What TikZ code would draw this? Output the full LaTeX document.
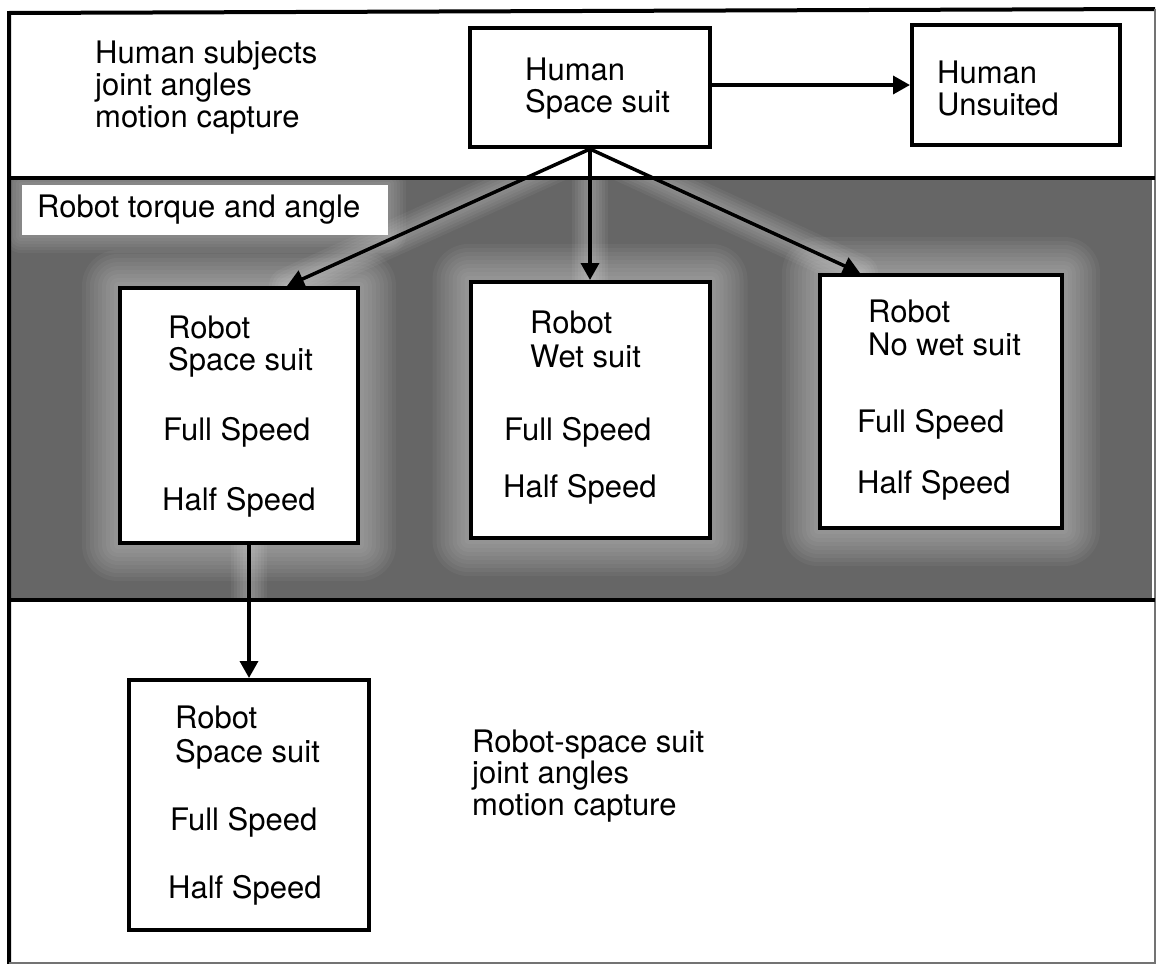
\documentclass[tikz,border=0pt]{standalone}
\usepackage{fontspec}
\setmainfont{TeX Gyre Heros}
\usetikzlibrary{arrows.meta}
\pgfdeclarelayer{bg}
\pgfdeclarelayer{halo}
\pgfsetlayers{bg,halo,main}
\begin{document}
\begin{tikzpicture}[x=1pt,y=-1pt,
  box/.style={draw, line width=4pt, fill=white, inner sep=0pt},
  txt/.style={anchor=base west, inner sep=0pt, font=\fontsize{31}{32}\selectfont},
  arr/.style={line width=3.5pt, -{Triangle[length=17pt,width=18pt]}},
  glow/.style={line width=#1, white, opacity=0.05, line cap=round},
  halofill/.style={white, opacity=0.045},
  frameline/.style={line width=4pt},
  thinframe/.style={line width=1.5pt, black!55}
]
\useasboundingbox (0,0) rectangle (1157,964);

% background and gray band
\begin{pgfonlayer}{bg}
\fill[white] (0,0) rectangle (1157,964);
\fill[black!60] (9,178) rectangle (1152,600);
\end{pgfonlayer}

% boxes
\node[box, minimum width=240pt, minimum height=119pt] (hss) at (590,87.5) {};
\node[box, minimum width=208pt, minimum height=120pt] (hu) at (1016,85) {};
\node[fill=white, inner sep=0pt, minimum width=366pt, minimum height=50pt] (lbl) at (205,210) {};
\node[box, minimum width=238pt, minimum height=255pt] (rss) at (239,415.5) {};
\node[box, minimum width=239pt, minimum height=256pt] (rws) at (590,410) {};
\node[box, minimum width=242pt, minimum height=253pt] (rnw) at (941,401.5) {};
\node[box, minimum width=240pt, minimum height=250pt] (bss) at (249,805) {};

% soft halos in the gray band
\begin{pgfonlayer}{halo}
\begin{scope}
\clip (9,178) rectangle (1152,600);
\foreach \n in {rss,rws,rnw} {
  \foreach \d in {4,8,...,36} {
    \fill[halofill, rounded corners=\d pt]
      ([xshift=-\d pt, yshift=\d pt]\n.north west) rectangle ([xshift=\d pt, yshift=-\d pt]\n.south east);
  }
}
\foreach \d in {3,6,...,18} {
  \fill[halofill, rounded corners=\d pt]
    ([xshift=-\d pt, yshift=\d pt]lbl.north west) rectangle ([xshift=\d pt, yshift=-\d pt]lbl.south east);
}
\foreach \w in {6pt,12pt,...,36pt} {
  \draw[glow=\w] (hss.south) -- ([xshift=48pt]rss.north);
  \draw[glow=\w] (hss.south) -- (rws.north);
  \draw[glow=\w] (hss.south) -- ([xshift=-81pt]rnw.north);
  \draw[glow=\w] ([xshift=10pt]rss.south) -- (bss.north);
}
\end{scope}
\end{pgfonlayer}

% frame and band borders
\draw[frameline] (9,964) -- (9,13) -- (1155,9);
\draw[thinframe] (1155,9) -- (1155,964);
\draw[thinframe] (9,963) -- (1155,963);
\draw[frameline] (9,178) -- (1155,178);
\draw[frameline] (9,600) -- (1155,600);

% texts
\node[txt] (ha) at (95,63) {Human subjects};
\node[txt] (hb) at (95,95) {joint angles};
\node[txt] (hc) at (95,127) {motion capture};

\node[txt] (hss1) at (525,80) {Human};
\node[txt] (hss2) at (525,112) {Space suit};

\node[txt] (hu1) at (937,83) {Human};
\node[txt] (hu2) at (937,115) {Unsuited};

\node[txt] (lblt) at (37,217) {Robot torque and angle};

\node[txt] (rss1) at (168,338) {Robot};
\node[txt] (rss2) at (168,370) {Space suit};
\node[txt] (rss3) at (163,440) {Full Speed};
\node[txt] (rss4) at (162,510) {Half Speed};

\node[txt] (rws1) at (530,333) {Robot};
\node[txt] (rws2) at (530,367) {Wet suit};
\node[txt] (rws3) at (504,440) {Full Speed};
\node[txt] (rws4) at (503,497) {Half Speed};

\node[txt] (rnw1) at (868,322) {Robot};
\node[txt] (rnw2) at (868,355) {No wet suit};
\node[txt] (rnw3) at (857,432) {Full Speed};
\node[txt] (rnw4) at (857,493) {Half Speed};

\node[txt] (bss1) at (175,728) {Robot};
\node[txt] (bss2) at (175,762) {Space suit};
\node[txt] (bss3) at (170,830) {Full Speed};
\node[txt] (bss4) at (168,898) {Half Speed};

\node[txt] (ra) at (472,752) {Robot-space suit};
\node[txt] (rb) at (472,783) {joint angles};
\node[txt] (rc) at (472,815) {motion capture};

% connectors
\draw[arr] (hss.east |- hu.west) -- (hu.west);
\draw[arr] (hss.south) -- ([xshift=48pt]rss.north);
\draw[arr] (hss.south) -- (rws.north);
\draw[arr] (hss.south) -- ([xshift=-81pt]rnw.north);
\draw[arr] ([xshift=10pt]rss.south) -- (bss.north);
\end{tikzpicture}
\end{document}
